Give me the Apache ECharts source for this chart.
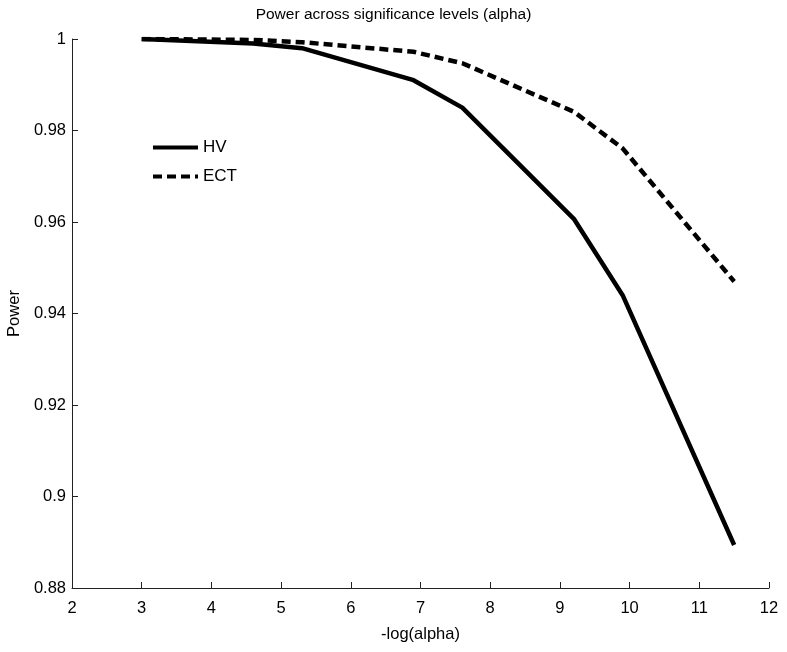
<!DOCTYPE html>
<html>
<head>
<meta charset="utf-8">
<script src="https://cdn.jsdelivr.net/npm/echarts@6/dist/echarts.min.js"></script>
<style>
  html, body { margin: 0; padding: 0; background: #fff; }
  #chart { width: 787px; height: 652px; }
</style>
</head>
<body>
<div id="chart"></div>
<script>
// -log(alpha) for alpha = 0.05, 0.01, 0.005, 0.001, 0.0005, 0.0001, 0.00005, 0.00001
var negLogAlpha = [3.0, 4.6, 5.3, 6.9, 7.6, 9.2, 9.9, 11.5];
var powerHV  = [1.0, 0.999, 0.998, 0.991, 0.985, 0.9607, 0.944, 0.8894];
var powerECT = [1.0, 0.9998, 0.9993, 0.9972, 0.9947, 0.9841, 0.9761, 0.947];

function pairs(xs, ys) {
    return xs.map(function (x, i) { return [x, ys[i]]; });
}

var font = 'Liberation Sans, Arial, sans-serif';
var chart = echarts.init(document.getElementById('chart'));
chart.setOption({
    animation: false,
    backgroundColor: '#fff',
    title: {
        text: 'Power across significance levels (alpha)',
        left: 'center',
        top: 2,
        textStyle: { fontFamily: font, fontSize: 15.5, fontWeight: 'normal', color: '#000' }
    },
    legend: {
        left: 146,
        top: 134,
        orient: 'vertical',
        itemWidth: 45,
        itemHeight: 18,
        itemGap: 12,
        itemStyle: { opacity: 0 },
        lineStyle: { width: 4 },
        textStyle: { fontFamily: font, fontSize: 17, color: '#000' },
        data: ['HV', 'ECT']
    },
    grid: { left: 72, right: 18, top: 39, bottom: 64, outerBoundsMode: 'none', containLabel: false },
    xAxis: {
        type: 'value',
        min: 2,
        max: 12,
        interval: 1,
        name: '-log(alpha)',
        nameLocation: 'middle',
        nameGap: 38,
        nameTextStyle: { fontFamily: font, fontSize: 16.5, color: '#000' },
        axisLine: { lineStyle: { color: '#222' } },
        axisTick: { inside: true, length: 6, lineStyle: { color: '#222' } },
        axisLabel: { fontFamily: font, fontSize: 16.5, color: '#000', margin: 12 },
        splitLine: { show: false }
    },
    yAxis: {
        type: 'value',
        min: 0.88,
        max: 1,
        interval: 0.02,
        name: 'Power',
        nameLocation: 'middle',
        nameGap: 47,
        nameTextStyle: { fontFamily: font, fontSize: 16.5, color: '#000' },
        axisLine: { show: true, lineStyle: { color: '#222' } },
        axisTick: { show: true, inside: true, length: 6, lineStyle: { color: '#222' } },
        axisLabel: { fontFamily: font, fontSize: 16.5, color: '#000', margin: 6 },
        splitLine: { show: false }
    },
    series: [
        {
            name: 'HV',
            type: 'line',
            showSymbol: false,
            symbol: 'none',
            lineStyle: { color: '#000', width: 4.5 },
            itemStyle: { color: '#000' },
            data: pairs(negLogAlpha, powerHV)
        },
        {
            name: 'ECT',
            type: 'line',
            showSymbol: false,
            symbol: 'none',
            lineStyle: { color: '#000', width: 4.5, type: [9, 5] },
            itemStyle: { color: '#000' },
            data: pairs(negLogAlpha, powerECT)
        }
    ]
});
</script>
</body>
</html>
